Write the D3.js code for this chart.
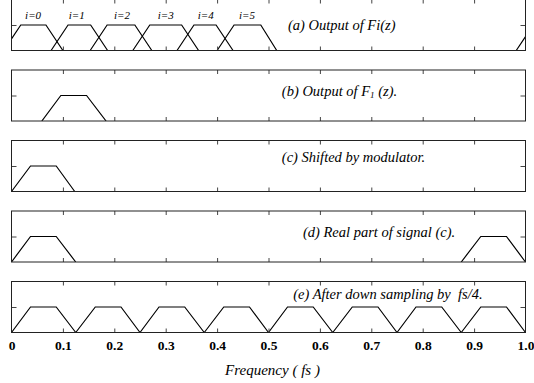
<!DOCTYPE html>
<html><head><meta charset="utf-8">
<script src="https://cdn.jsdelivr.net/npm/d3@7"></script>
<style>body{margin:0;background:#fff}svg{display:block}
text{font-family:"Liberation Serif","DejaVu Serif",serif;white-space:pre}</style>
</head><body>
<script>
// ---- data ----
const tickValues = [0,0.1,0.2,0.3,0.4,0.5,0.6,0.7,0.8,0.9,1.0];
const tickLabels = ["0","0.1","0.2","0.3","0.4","0.5","0.6","0.7","0.8","0.9","1.0"];
// trapezoids: [start, topStart, topEnd, end] in units of fs
const panelA = [[-0.015,0.018,0.067,0.100],[0.077,0.110,0.154,0.187],[0.153,0.186,0.240,0.273],
                [0.236,0.269,0.331,0.364],[0.322,0.355,0.398,0.431],[0.400,0.433,0.485,0.516],
                [0.982,1.015,1.064,1.097]];
const bandLabels = ["i=0","i=1","i=2","i=3","i=4","i=5"];
const bandLabelX = [0.042,0.127,0.215,0.300,0.378,0.458];
const panelB = [[0.059,0.096,0.146,0.184]];
const panelC = [[0,0.037,0.087,0.123]];
const panelD = [[0,0.037,0.087,0.125],[0.875,0.913,0.963,1.0]];
const panelE = [[0,0.037,0.087,0.125],[0.125,0.163,0.213,0.25],[0.25,0.287,0.337,0.375],[0.375,0.413,0.463,0.5],
                [0.5,0.537,0.587,0.625],[0.625,0.663,0.713,0.75],[0.75,0.787,0.837,0.875],[0.875,0.913,0.963,1.0]];
const panelTitles = ["(a) Output of Fi(z)","(b) Output of F","(c) Shifted by modulator.","(d) Real part of signal (c).","(e) After down sampling by  fs/4."];
const xTitle = "Frequency ( fs )";

// ---- layout ----
const W = 534, H = 383;
const panels = [panelA, panelB, panelC, panelD, panelE];
const titlePos = [[0.538,0.82],[0.526,0.97],[0.526,1.16],[0.567,0.99],[0.548,1.31]];
const panelTop0 = -0.5, panelStep = 70.5, panelH = 51;

const svg = d3.select("body").append("svg").attr("width", W).attr("height", H);
const x = d3.scaleLinear().domain([0,1]).range([11.5,525.5]);

panels.forEach((data, pi) => {
  const top = panelTop0 + pi*panelStep;
  const y = d3.scaleLinear().domain([0,2]).range([top+panelH, top]);
  const g = svg.append("g");
  const clipId = "clip"+pi;
  svg.append("clipPath").attr("id", clipId).append("rect")
     .attr("x", x(0)).attr("y", top).attr("width", x(1)-x(0)).attr("height", panelH);

  const line = d3.line().x(d=>x(d[0])).y(d=>y(d[1]));
  g.append("g").attr("clip-path", `url(#${clipId})`)
    .selectAll("path").data(data).join("path")
    .attr("d", t => line([[t[0],0],[t[1],1],[t[2],1],[t[3],0]]))
    .attr("fill","none").attr("stroke","#000").attr("stroke-width",1.2);

  const inner = tickValues.slice(1,-1);
  const axB = g.append("g").attr("transform",`translate(0,${top+panelH})`)
    .call(d3.axisBottom(x).tickValues(inner).tickSize(-4).tickFormat(""));
  const axT = g.append("g").attr("transform",`translate(0,${top})`)
    .call(d3.axisTop(x).tickValues(inner).tickSize(-4).tickFormat(""));
  const axL = g.append("g").attr("transform",`translate(${x(0)},0)`)
    .call(d3.axisLeft(y).tickValues([1]).tickSize(-5).tickFormat(""));
  const axR = g.append("g").attr("transform",`translate(${x(1)},0)`)
    .call(d3.axisRight(y).tickValues([1]).tickSize(-5).tickFormat(""));
  [axB,axT,axL,axR].forEach(a => { a.select(".domain").remove(); a.selectAll("line").attr("stroke","#444"); });

  g.append("rect").attr("x", x(0)).attr("y", top).attr("width", x(1)-x(0)).attr("height", panelH)
    .attr("fill","none").attr("stroke","#222").attr("stroke-width",1);

  const t = g.append("text").attr("x", x(titlePos[pi][0])).attr("y", y(titlePos[pi][1]))
    .attr("font-style","italic").attr("font-size",14.5).attr("fill","#000")
    .text(panelTitles[pi]);
  if (pi === 1) {
    t.append("tspan").attr("font-size",9).attr("dy",2).text("1");
    t.append("tspan").attr("dy",-2).text(" (z).");
  }

  if (pi === 0) {
    g.selectAll("text.band").data(bandLabels).join("text").attr("class","band")
      .attr("x",(d,i)=>x(bandLabelX[i])).attr("y", y(1.25))
      .attr("text-anchor","middle").attr("font-style","italic")
      .attr("font-size",11).text(d=>d);
  }

  if (pi === panels.length-1) {
    const axLab = svg.append("g").attr("transform",`translate(0,${top+panelH})`)
      .call(d3.axisBottom(x).tickValues(tickValues).tickSize(0).tickPadding(8)
        .tickFormat((d,i)=>tickLabels[i]));
    axLab.select(".domain").remove();
    axLab.selectAll("text").attr("font-family",null).attr("font-weight","bold")
      .attr("font-size",13.5).attr("fill","#000");
    svg.append("text").attr("x", x(0.5)+4).attr("y", 374.5).attr("text-anchor","middle")
      .attr("font-style","italic").attr("font-size",15).text(xTitle);
  }
});
</script>
</body></html>
